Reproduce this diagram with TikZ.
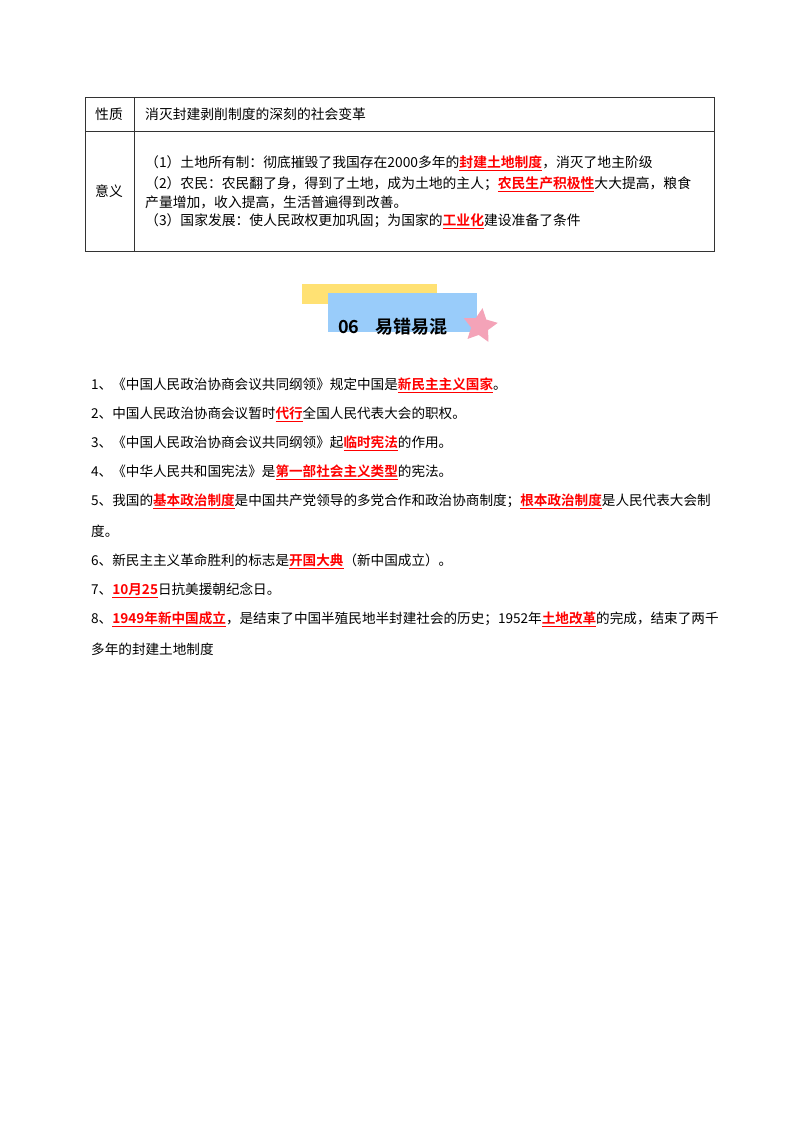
\documentclass[tikz,border=0pt]{standalone}
\usepackage{fontspec}
\setmainfont{Noto Sans CJK SC}[BoldFont={Noto Sans CJK SC Bold}]
\usetikzlibrary{shapes.geometric}
\definecolor{hdrblue}{HTML}{99CCFA}
\definecolor{hdryel}{HTML}{FFE173}
\definecolor{hdrpink}{HTML}{F4A3B8}
\newcommand{\hl}[1]{\textcolor{red}{\bfseries\underline{#1}}}
\begin{document}
\begin{tikzpicture}[x=1pt,y=-1pt,
  txt/.style={anchor=west,inner sep=0pt,font=\fontsize{13.6}{15}\selectfont},
  ttxt/.style={anchor=west,inner sep=0pt,font=\fontsize{13.8}{15}\selectfont}]
\useasboundingbox[fill=white] (0,0) rectangle (800,1132);
% table
\draw[line width=0.8pt,black!80] (85,97) rectangle (714,251);
\draw[line width=0.8pt,black!80] (85,131) -- (714,131) (134,97) -- (134,251);
\node[ttxt] (a) at (95,114) {性质};
\node[ttxt] (b) at (145,114) {消灭封建剥削制度的深刻的社会变革};
\node[ttxt] (c) at (95,191) {意义};
\node[ttxt] (d1) at (145,163) {（1）土地所有制：彻底摧毁了我国存在2000多年的\hl{封建土地制度}，消灭了地主阶级};
\node[ttxt] (d2) at (145,184) {（2）农民：农民翻了身，得到了土地，成为土地的主人；\hl{农民生产积极性}大大提高，粮食};
\node[ttxt] (d3) at (145,202) {产量增加，收入提高，生活普遍得到改善。};
\node[ttxt] (d4) at (145,221) {（3）国家发展：使人民政权更加巩固；为国家的\hl{工业化}建设准备了条件};
% header
\fill[hdryel] (302,284) rectangle (437,304);
\fill[hdrblue] (328,293) rectangle (477,332);
\node[star,star points=5,star point ratio=2.0,fill=hdrpink,minimum size=36pt,inner sep=0pt,rotate=-8] (s) at (480,326) {};
\node[anchor=west,inner sep=0pt,font=\fontsize{18}{20}\selectfont\bfseries] (h) at (338,327) {06\hspace{16pt}易错易混};
% list
\node[txt] (l1) at (91,385) {1、《中国人民政治协商会议共同纲领》规定中国是\hl{新民主主义国家}。};
\node[txt] (l2) at (91,414) {2、中国人民政治协商会议暂时\hl{代行}全国人民代表大会的职权。};
\node[txt] (l3) at (91,443) {3、《中国人民政治协商会议共同纲领》起\hl{临时宪法}的作用。};
\node[txt] (l4) at (91,472) {4、《中华人民共和国宪法》是\hl{第一部社会主义类型}的宪法。};
\node[txt] (l5) at (91,501) {5、我国的\hl{基本政治制度}是中国共产党领导的多党合作和政治协商制度；\hl{根本政治制度}是人民代表大会制};
\node[txt] (l5b) at (91,531) {度。};
\node[txt] (l6) at (91,561) {6、新民主主义革命胜利的标志是\hl{开国大典}（新中国成立）。};
\node[txt] (l7) at (91,590) {7、\hl{10月25}日抗美援朝纪念日。};
\node[txt] (l8) at (91,619) {8、\hl{1949年新中国成立}，是结束了中国半殖民地半封建社会的历史；1952年\hl{土地改革}的完成，结束了两千};
\node[txt] (l8b) at (91,649) {多年的封建土地制度};
\end{tikzpicture}
\end{document}
